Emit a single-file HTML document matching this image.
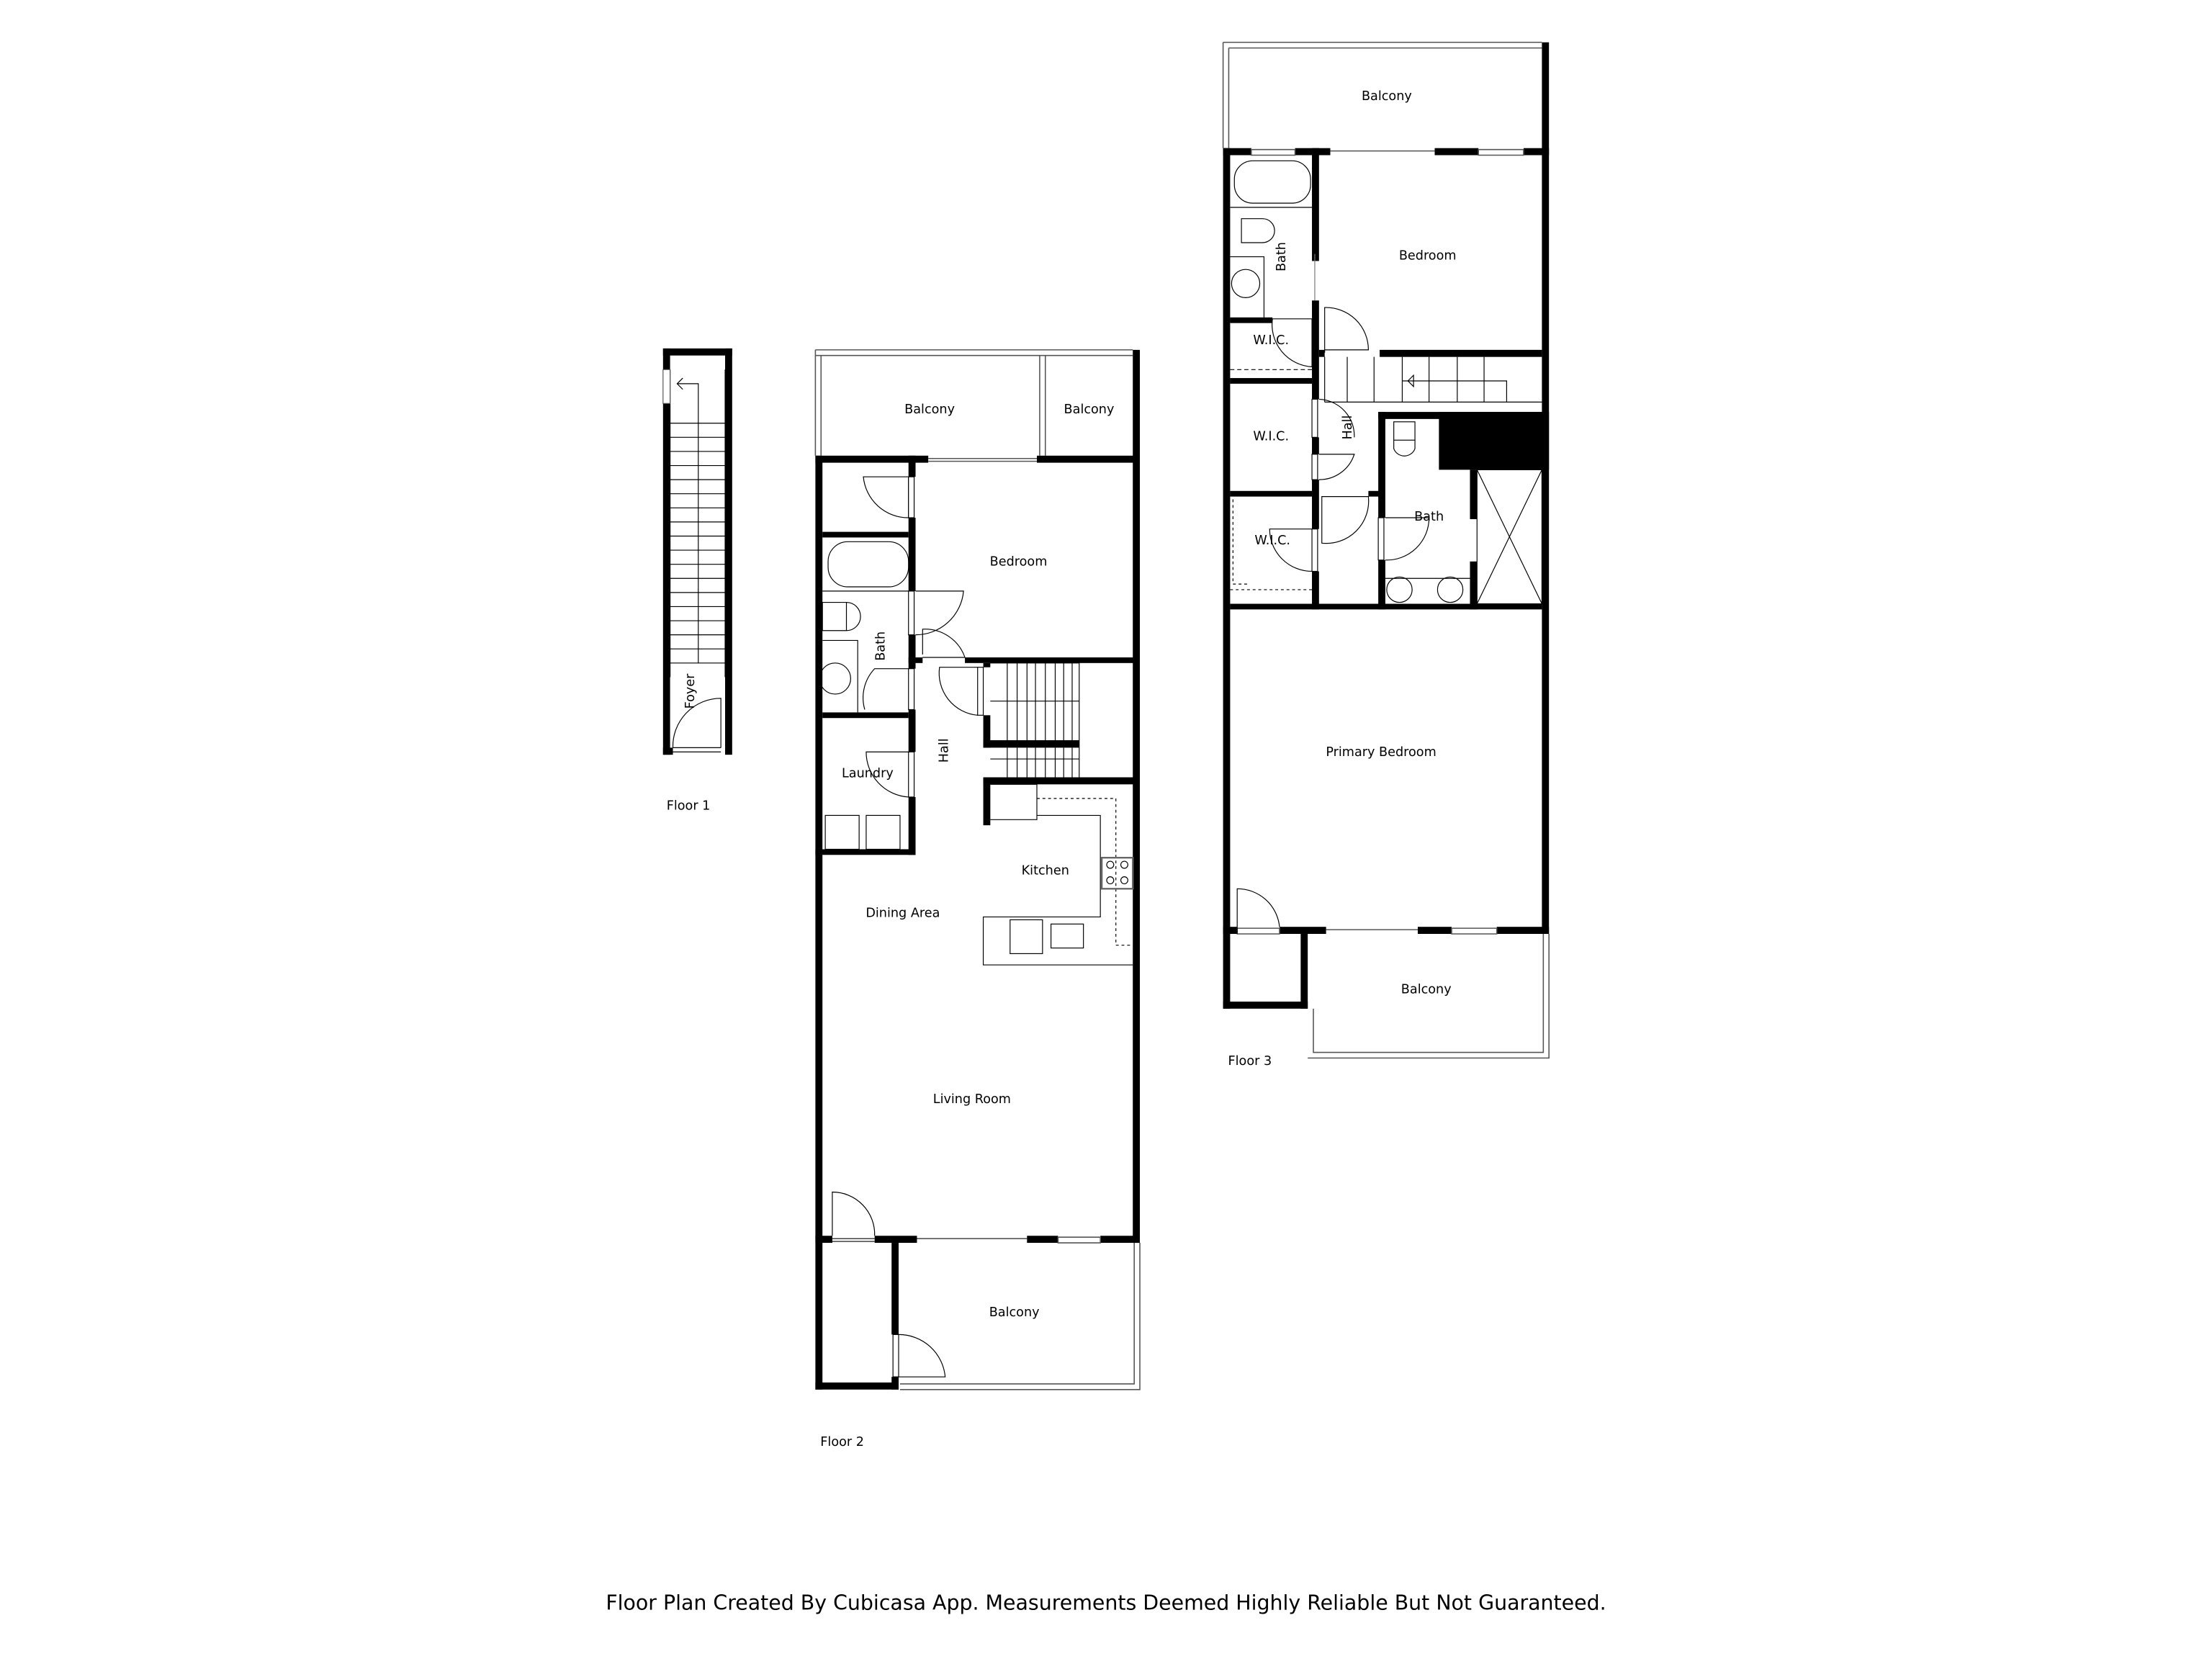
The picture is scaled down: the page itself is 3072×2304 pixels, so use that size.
<!DOCTYPE html>
<html><head><meta charset="utf-8"><style>
html,body{margin:0;padding:0;background:#fff}
svg{display:block}
text{font-family:"DejaVu Sans","Liberation Sans",sans-serif;fill:#000}
</style></head><body>
<svg width="3072" height="2304" viewBox="0 0 1568 1176" xmlns="http://www.w3.org/2000/svg">
<rect width="1568" height="1176" fill="#fff"/>
<g fill="#000">
<rect x="470" y="247" width="5" height="288"/>
<rect x="514" y="247" width="5" height="288"/>
<rect x="470" y="247" width="49" height="5"/>
<rect x="470" y="530" width="7" height="5"/>
<rect x="803" y="248" width="5" height="633"/>
<rect x="578" y="323" width="80" height="5"/>
<rect x="735" y="323" width="73" height="5"/>
<rect x="578" y="323" width="5" height="662"/>
<rect x="644" y="323" width="5" height="15"/>
<rect x="644" y="367" width="5" height="52"/>
<rect x="644" y="450" width="5" height="24"/>
<rect x="644" y="503" width="5" height="30"/>
<rect x="644" y="565" width="5" height="41"/>
<rect x="583" y="377" width="61" height="4"/>
<rect x="644" y="466" width="10" height="4"/>
<rect x="684" y="466" width="124" height="4"/>
<rect x="583" y="505" width="61" height="4"/>
<rect x="578" y="602" width="71" height="4"/>
<rect x="697" y="470" width="5" height="3"/>
<rect x="697" y="507" width="5" height="23"/>
<rect x="697" y="525" width="68" height="5"/>
<rect x="697" y="551" width="111" height="5"/>
<rect x="697" y="551" width="5" height="34"/>
<rect x="578" y="876" width="12" height="5"/>
<rect x="620" y="876" width="30" height="5"/>
<rect x="728" y="876" width="22" height="5"/>
<rect x="780" y="876" width="28" height="5"/>
<rect x="632" y="881" width="5" height="65"/>
<rect x="632" y="976" width="5" height="9"/>
<rect x="578" y="980" width="59" height="5"/>
<rect x="1093" y="30" width="5" height="632"/>
<rect x="867" y="105" width="20" height="5"/>
<rect x="918" y="105" width="25" height="5"/>
<rect x="1017" y="105" width="31" height="5"/>
<rect x="1080" y="105" width="18" height="5"/>
<rect x="867" y="105" width="5" height="610"/>
<rect x="930" y="105" width="5" height="80"/>
<rect x="930" y="213" width="5" height="70"/>
<rect x="930" y="310" width="5" height="12"/>
<rect x="930" y="340" width="5" height="35"/>
<rect x="930" y="405" width="5" height="27"/>
<rect x="872" y="225" width="30" height="4"/>
<rect x="935" y="248" width="4" height="5"/>
<rect x="978" y="248" width="115" height="5"/>
<rect x="872" y="268" width="58" height="4"/>
<rect x="872" y="348" width="58" height="4"/>
<rect x="970" y="348" width="10" height="4"/>
<rect x="872" y="428" width="221" height="4"/>
<rect x="977" y="292" width="5" height="75"/>
<rect x="977" y="397" width="5" height="35"/>
<rect x="977" y="292" width="116" height="5"/>
<rect x="1020" y="292" width="78" height="41"/>
<rect x="1042" y="333" width="5" height="35"/>
<rect x="1042" y="398" width="5" height="34"/>
<rect x="867" y="657" width="10" height="5"/>
<rect x="907" y="657" width="33" height="5"/>
<rect x="1005" y="657" width="24" height="5"/>
<rect x="1061" y="657" width="37" height="5"/>
<rect x="922" y="662" width="5" height="53"/>
<rect x="867" y="710" width="60" height="5"/>
</g>
<g fill="none" stroke="#555" stroke-width="0.8">
<path d="M578 248 H803 M578 252 H803 M578 248 V323 M582 252 V323 M737 252 V323 M741 252 V323"/>
<path d="M658 325 H735 M658 327 H735"/>
<path d="M808 881 V985 H638 M804 881 V981 H638"/>
<path d="M650 878 H728 M750 877 H780 V881 H750Z"/>
<path d="M867 30 H1093 M871 34 H1093 M867 30 V105 M871 34 V105"/>
<path d="M943 107 H1017 M887 106 H918 V110 H887Z M1048 106 H1080 V110 H1048Z"/>
<path d="M1098 662 V750 H927 M1094 662 V746 H931 V715"/>
<path d="M940 659 H1005 M877 658 H907 V662 H877Z M1029 658 H1061 V662 H1029Z"/>
</g>
<g fill="none" stroke="#000" stroke-width="0.6">
<path d="M475 262 V480 M514 262 V480"/>
<path d="M475 300 H514 M475 310 H514 M475 320 H514 M475 330 H514 M475 340 H514 M475 350 H514 M475 360 H514 M475 370 H514 M475 380 H514 M475 390 H514 M475 400 H514 M475 410 H514 M475 420 H514 M475 430 H514 M475 440 H514 M475 450 H514 M475 460 H514 M475 470 H514"/>
<path d="M495 470 V272 H480 M484 268 L480 272 L484 276"/>
<rect x="470" y="262" width="5" height="24" fill="#fff" stroke="#555"/>
<path d="M477 530 H511 M477 533 H511 M511 530 V495 A34 34 0 0 0 477 530"/>
<path d="M644 338 H612 A32 32 0 0 0 644 367 M644 338 V367"/>
<rect x="644" y="338" width="4" height="29" fill="#fff"/>
<rect x="644" y="419" width="4" height="31" fill="#fff"/>
<path d="M649 419 H683 A34 34 0 0 1 649 450"/>
<path d="M654 464 V446 A30 30 0 0 1 684 466 M654 466 H684"/>
<rect x="644" y="474" width="4" height="29" fill="#fff"/>
<path d="M644 474 H620 A30 30 0 0 0 613 503"/>
<rect x="693" y="473" width="4" height="34" fill="#fff"/>
<path d="M693 473 H666 A30 30 0 0 0 693 507"/>
<rect x="644" y="533" width="4" height="32" fill="#fff"/>
<path d="M644 533 H614 A32 32 0 0 0 644 565"/>
<path d="M590 878 H620 M590 880 H620 M590 876 V845 A30 30 0 0 1 620 876"/>
<rect x="633" y="946" width="4" height="30" fill="#fff"/>
<path d="M637 946 A33 33 0 0 1 670 976 H637"/>
<rect x="587" y="384" width="57" height="32" rx="14"/>
<path d="M583 419 H644 M600 427 H583 V447 H600 A10 10 0 0 0 600 427 M600 427 V447"/>
<path d="M583 454 H608 V505"/>
<circle cx="592" cy="481" r="11"/>
<rect x="585" y="578" width="24" height="24"/>
<rect x="614" y="578" width="24" height="24"/>
<path d="M702 470 H765 V551 M702 525 H765 M702 497 H765 M702 538 H765"/>
<path d="M721 470 V525 M741 470 V525 M760 470 V525 M721 530 V551 M741 530 V551 M760 530 V551 M714 530 V551 M714 470 V525 M728 470 V525 M734 470 V525 M748 470 V525 M754 470 V525 M728 530 V551 M734 530 V551 M748 530 V551 M754 530 V551"/>
<path d="M702 556 H735 V581 H702 M735 578 H780 V650 H697 V684 H803"/>
<path d="M735 566 H791 V670 H803" stroke-dasharray="2 2"/>
<rect x="781" y="608" width="22" height="22" stroke="#666" stroke-width="1.2"/>
<circle cx="787" cy="613" r="2.5"/><circle cx="797" cy="613" r="2.5"/><circle cx="787" cy="624" r="2.5"/><circle cx="797" cy="624" r="2.5"/>
<rect x="716" y="652" width="23" height="24"/>
<rect x="745" y="655" width="23" height="17"/>
<rect x="875" y="114" width="54" height="30" rx="13"/>
<path d="M872 147 H930 M880 155 V172 H895 A8 8 0 0 0 895 155 Z M872 182 H896 V225"/>
<circle cx="883" cy="201" r="10"/>
<path d="M932 180 V213" stroke="#777"/>
<path d="M902 226 H930 V260 A30 30 0 0 1 902 226"/>
<path d="M872 262 H930" stroke-dasharray="3 2"/>
<path d="M939 250 V218 A30 30 0 0 1 970 248 H939"/>
<rect x="930" y="283" width="4" height="27" fill="#fff"/>
<path d="M935 283 A26 26 0 0 1 960 310 M935 340 A26 26 0 0 0 960 322 H935"/>
<rect x="930" y="322" width="4" height="18" fill="#fff"/>
<path d="M937 352 H970 A30 30 0 0 1 937 385 Z"/>
<path d="M874 354 V414 H884 M872 418 H930" stroke-dasharray="2 2"/>
<rect x="930" y="375" width="4" height="30" fill="#fff"/>
<path d="M930 375 H900 A30 30 0 0 0 930 405"/>
<path d="M939 253 V285 M939 285 H1093 M955 253 V285 M974 253 V285 M994 253 V285 M1013 253 V285 M1033 253 V285 M1052 253 V285 M994 270 H1068 V285"/>
<path d="M998 270 L1002 266 V274 Z"/>
<rect x="988" y="299" width="15" height="13"/>
<path d="M988 312 V318 A8 8 0 0 0 1003 318 V312"/>
<rect x="977" y="367" width="4" height="30" fill="#fff"/>
<path d="M982 367 H1013 A30 30 0 0 1 982 397"/>
<path d="M982 410 H1042"/>
<circle cx="992" cy="418" r="9"/><circle cx="1028" cy="418" r="9"/>
<path d="M1047 333 H1093 V428 H1047 Z M1047 333 L1093 428 M1093 333 L1047 428"/>
<path d="M877 662 V630 A30 30 0 0 1 907 657"/>
</g>
<g font-size="9" text-anchor="middle">
<text x="659" y="293">Balcony</text>
<text x="772" y="293">Balcony</text>
<text x="722" y="401">Bedroom</text>
<text x="615" y="551">Laundry</text>
<text x="741" y="620">Kitchen</text>
<text x="640" y="650">Dining Area</text>
<text x="689" y="782">Living Room</text>
<text x="719" y="933">Balcony</text>
<text x="983" y="71">Balcony</text>
<text x="1012" y="184">Bedroom</text>
<text x="901" y="244">W.I.C.</text>
<text x="901" y="312">W.I.C.</text>
<text x="902" y="386">W.I.C.</text>
<text x="1013" y="369">Bath</text>
<text x="979" y="536">Primary Bedroom</text>
<text x="1011" y="704">Balcony</text>
<text transform="translate(627,458) rotate(-90)">Bath</text>
<text transform="translate(672,532) rotate(-90)">Hall</text>
<text transform="translate(492,490) rotate(-90)">Foyer</text>
<text transform="translate(911,182) rotate(-90)">Bath</text>
<text transform="translate(958,303) rotate(-90)">Hall</text>
<text x="488" y="574">Floor 1</text>
<text x="597" y="1025">Floor 2</text>
<text x="886" y="755">Floor 3</text>
</g>
<text x="784" y="1141" font-size="14.5" text-anchor="middle">Floor Plan Created By Cubicasa App. Measurements Deemed Highly Reliable But Not Guaranteed.</text>
</svg>
</body></html>
